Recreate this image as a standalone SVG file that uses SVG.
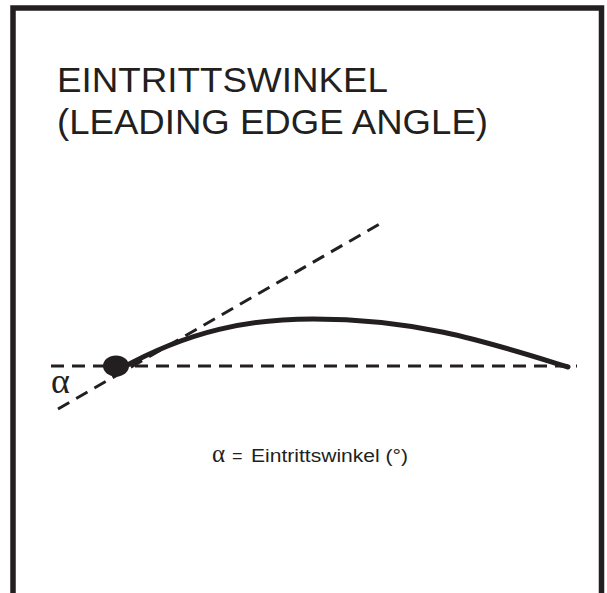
<svg xmlns="http://www.w3.org/2000/svg" width="607" height="593" viewBox="0 0 607 593">
  <style>
    .frame { fill: none; stroke: #231f20; stroke-width: 5.5; }
    .dash { fill: none; stroke: #231f20; stroke-width: 3; stroke-dasharray: 13 8; }
    .curve { fill: none; stroke: #231f20; stroke-width: 5; stroke-linecap: round; }
    .title { font-family: "Liberation Sans", Arial, sans-serif; font-size: 35px; fill: #231f20; }
    .label { font-family: "Liberation Sans", Arial, sans-serif; font-size: 18px; fill: #231f20; }
    .greek { font-family: "Liberation Serif", "Times New Roman", serif; fill: #231f20; }
  </style>
  <rect width="607" height="593" fill="#ffffff"/>
  <path class="frame" d="M13,593 V8 H601.5 V593"/>
  <g id="title">
    <text class="title" x="57" y="92" textLength="331" lengthAdjust="spacingAndGlyphs">EINTRITTSWINKEL</text>
    <text class="title" x="57" y="134" textLength="431" lengthAdjust="spacingAndGlyphs">(LEADING EDGE ANGLE)</text>
  </g>
  <g id="connectors">
    <line class="dash" x1="51" y1="366" x2="577" y2="366"/>
    <line class="dash" x1="58" y1="409" x2="383" y2="222"/>
  </g>
  <g id="profile">
    <path class="curve" d="M120,369 C190,330 250,319 313,319 C420,319 490,343 568,367"/>
    <ellipse cx="116" cy="366" rx="13" ry="10.5" fill="#231f20"/>
  </g>
  <g id="alpha-label">
    <text class="greek" x="51" y="393" font-size="36">α</text>
  </g>
  <g id="legend">
    <text class="greek" x="212" y="462" font-size="25">α</text>
    <text class="label" x="232" y="462">=</text>
    <text class="label" x="251" y="462" textLength="157" lengthAdjust="spacingAndGlyphs">Eintrittswinkel (°)</text>
  </g>
</svg>
